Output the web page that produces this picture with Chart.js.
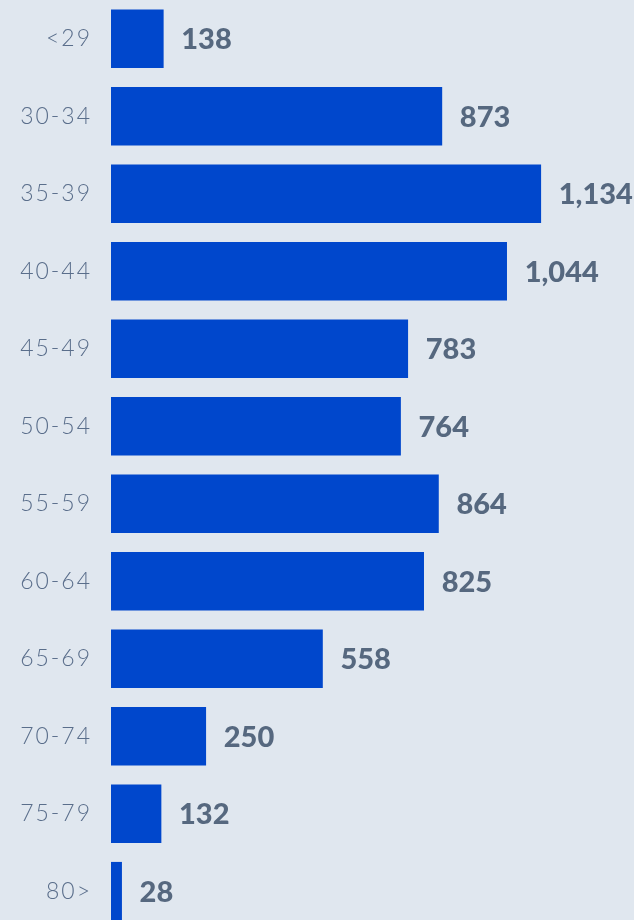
<!DOCTYPE html>
<html>
<head>
<meta charset="utf-8">
<script src="https://cdn.jsdelivr.net/npm/chart.js@4"></script>
<style>
  html, body { margin: 0; padding: 0; background: #e0e7ef; overflow: hidden; }
  canvas { display: block; }
</style>
</head>
<body>
<canvas id="myChart" width="634" height="930"></canvas>
<script>
// age groups and headcount per group
var grupos = ["<29", "30-34", "35-39", "40-44", "45-49", "50-54", "55-59", "60-64", "65-69", "70-74", "75-79", "80>"];
var valores = [138, 873, 1134, 1044, 783, 764, 864, 825, 558, 250, 132, 28];

var corBarra = "#0047cc";
var corTexto = "#56687f";

// wider spacing for the age labels
var espaco = {
  id: "espaco",
  beforeDraw: function (chart) {
    chart.ctx.letterSpacing = "2px";
  }
};

// writes the value to the right of each bar
var rotulos = {
  id: "rotulos",
  afterDatasetsDraw: function (chart) {
    var ctx = chart.ctx;
    var meta = chart.getDatasetMeta(0);
    ctx.save();
    ctx.letterSpacing = "0px";
    ctx.font = "900 29px Lato";
    ctx.fillStyle = corTexto;
    ctx.textAlign = "left";
    ctx.textBaseline = "middle";
    meta.data.forEach(function (bar, i) {
      var v = valores[i].toLocaleString("en-US");
      ctx.fillText(v, bar.x + 18, bar.y + 1);
    });
    ctx.restore();
  }
};

const ctx = document.getElementById("myChart");

new Chart(ctx, {
  type: "bar",
  data: {
    labels: grupos,
    datasets: [
      {
        data: valores,
        backgroundColor: corBarra,
        borderWidth: 0,
        barThickness: 58
      }
    ]
  },
  options: {
    indexAxis: "y",
    responsive: false,
    animation: false,
    layout: { padding: 0 },
    plugins: {
      legend: { display: false },
      tooltip: { enabled: false }
    },
    scales: {
      x: {
        display: false,
        min: 0,
        max: 1380
      },
      y: {
        grid: { display: false, drawTicks: false },
        border: { display: false },
        ticks: {
          padding: 19,
          color: "#5a6e8b",
          font: { family: "Lato", weight: 300, size: 23 }
        },
        afterFit: function (axis) {
          axis.width = 111;
          axis.paddingTop = 0;
          axis.paddingBottom = 0;
        }
      }
    }
  },
  plugins: [espaco, rotulos]
});
</script>
</body>
</html>
